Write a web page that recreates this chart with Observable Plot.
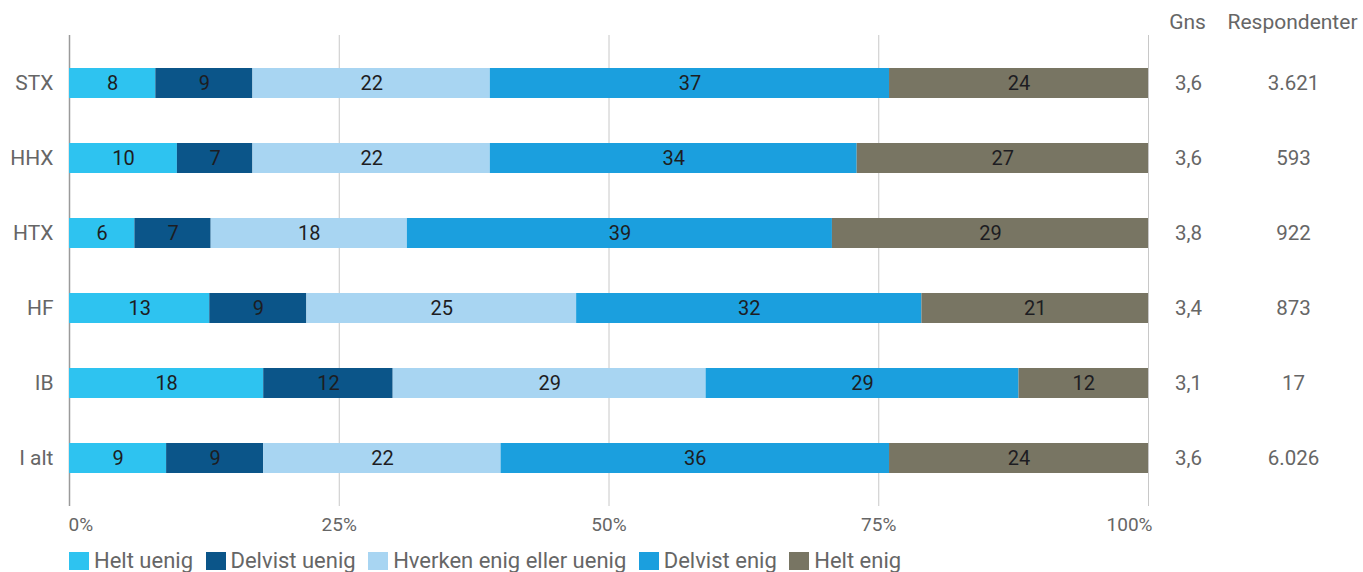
<!DOCTYPE html>
<html>
<head>
<meta charset="utf-8">
<script src="https://cdn.jsdelivr.net/npm/d3@7"></script>
<script src="https://cdn.jsdelivr.net/npm/@observablehq/plot@0.6"></script>
<style>
  body { margin: 0; background: #fff; font-family: Roboto, sans-serif; }
  #legend { display: flex; gap: 12.5px; margin-left: 69px; margin-top: 9px; font-size: 22px; color: #666; line-height: 24px; }
  #legend span.item { display: flex; align-items: center; }
  #legend span.sw { display: inline-block; width: 20px; height: 18px; margin-right: 5px; }
</style>
</head>
<body>
<div id="chart"></div>
<div id="legend"></div>
<script>
const groups = ["STX", "HHX", "HTX", "HF", "IB", "I alt"];
const answers = ["Helt uenig", "Delvist uenig", "Hverken enig eller uenig", "Delvist enig", "Helt enig"];
const colors = ["#2EC3F0", "#0B5589", "#A8D5F2", "#1B9FDE", "#787563"];
const helt_uenig    = [8, 10, 6, 13, 18, 9];
const delvist_uenig = [9, 7, 7, 9, 12, 9];
const hverken       = [22, 22, 18, 25, 29, 22];
const delvist_enig  = [37, 34, 39, 32, 29, 36];
const helt_enig     = [24, 27, 29, 21, 12, 24];
const gns           = ["3,6", "3,6", "3,8", "3,4", "3,1", "3,6"];
const respondenter  = ["3.621", "593", "922", "873", "17", "6.026"];
const xTicks = [0, 0.25, 0.5, 0.75, 1];

const series = [helt_uenig, delvist_uenig, hverken, delvist_enig, helt_enig];
const data = [];
groups.forEach((g, i) => {
  answers.forEach((a, j) => data.push({group: g, answer: a, value: series[j][i]}));
});
const rows = groups.map((g, i) => ({group: g, gns: gns[i], resp: respondenter[i]}));
const pct = d => Math.round(d * 100) + "%";
const axisStyle = {tickFormat: pct, tickSize: 0, tickPadding: 11, fontSize: 19, color: "#666", label: null};

const chart = Plot.plot({
  width: 1363,
  height: 540,
  marginLeft: 69,
  marginRight: 215,
  marginTop: 35,
  marginBottom: 34,
  style: {fontFamily: "Roboto, sans-serif", background: "#fff"},
  x: {domain: [0, 1], label: null},
  y: {domain: groups, padding: 0.6, paddingOuter: 0.42, label: null},
  color: {domain: answers, range: colors},
  marks: [
    Plot.gridX(xTicks, {stroke: "#c8c8c8", strokeOpacity: 1, strokeWidth: 1}),
    Plot.ruleX([0], {stroke: "#9a9a9a", strokeWidth: 1.5}),
    Plot.barX(data, Plot.stackX({x: "value", y: "group", fill: "answer", order: answers, offset: "normalize"})),
    Plot.text(data, Plot.stackX({x: "value", y: "group", z: "answer", text: "value", order: answers, offset: "normalize", fill: "#1d1d22", fontSize: 20})),
    Plot.axisX([0], {...axisStyle, textAnchor: "start", dx: -1}),
    Plot.axisX([0.25, 0.5, 0.75], {...axisStyle}),
    Plot.axisX([1], {...axisStyle, textAnchor: "end", dx: 4}),
    Plot.axisY({tickSize: 0, tickPadding: 16, fontSize: 21, color: "#666", label: null}),
    Plot.text(rows, {y: "group", text: "gns", frameAnchor: "right", textAnchor: "middle", dx: 40, fontSize: 20.5, fill: "#666"}),
    Plot.text(rows, {y: "group", text: "resp", frameAnchor: "right", textAnchor: "middle", dx: 145, fontSize: 20.5, fill: "#666"}),
    Plot.text(["Gns"], {text: d => d, frameAnchor: "top-right", textAnchor: "middle", lineAnchor: "middle", dx: 39, dy: -13, fontSize: 21, fill: "#666"}),
    Plot.text(["Respondenter"], {text: d => d, frameAnchor: "top-right", textAnchor: "middle", lineAnchor: "middle", dx: 144, dy: -13, fontSize: 21, fill: "#666"})
  ]
});
document.getElementById("chart").appendChild(chart);

const legend = document.getElementById("legend");
answers.forEach((a, i) => {
  const item = document.createElement("span");
  item.className = "item";
  const sw = document.createElement("span");
  sw.className = "sw";
  sw.style.background = colors[i];
  item.appendChild(sw);
  item.appendChild(document.createTextNode(a));
  legend.appendChild(item);
});
</script>
</body>
</html>
